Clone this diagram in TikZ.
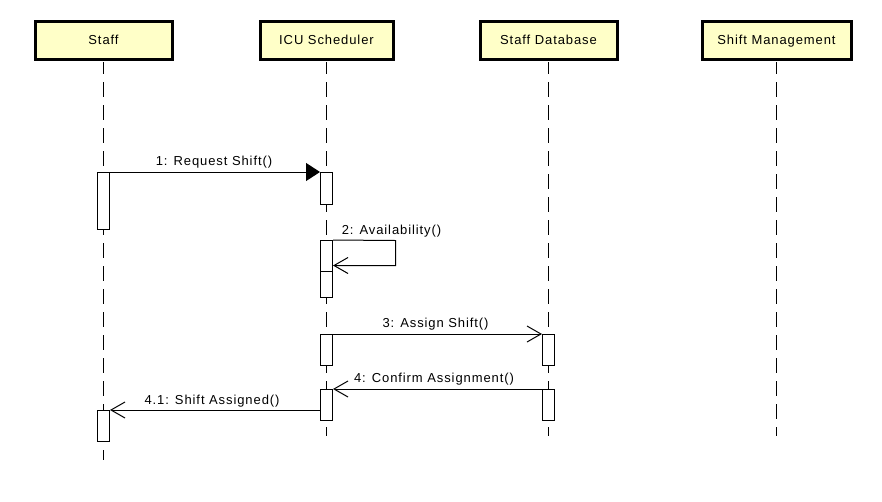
\documentclass[tikz,border=0pt]{standalone}
\usepackage{fontspec}
\setmainfont{Liberation Sans}[LetterSpace=7]
\usetikzlibrary{arrows.meta}
\definecolor{hdrfill}{HTML}{FFFFC8}
\begin{document}
\begin{tikzpicture}[x=1pt,y=-1pt,
  hdr/.style={draw=black,line width=3pt,fill=hdrfill,minimum height=37.7pt,inner sep=0pt,text height=9.3pt,text depth=1.3pt,font=\fontsize{13}{15}\selectfont},
  life/.style={draw=black,line width=1pt,dash pattern=on 15pt off 8pt,dash phase=2.7pt},
  act/.style={draw=black,line width=1pt,fill=white,minimum width=12pt,inner sep=0pt},
  msg/.style={draw=black,line width=1pt},
  openarr/.style={-{Straight Barb[length=14pt,width=16pt,line width=1pt]}},
  fillarr/.style={-{Triangle[length=14pt,width=18pt]}},
  lbl/.style={inner sep=0pt,font=\fontsize{13}{15}\selectfont}]
\useasboundingbox (0,0) rectangle (882,501);
% headers
\node[hdr,minimum width=137pt] (staff) at (103.5,40.3) {Staff};
\node[hdr,minimum width=133pt] (icu) at (326.5,40.3) {ICU Scheduler};
\node[hdr,minimum width=137pt] (db) at (548.5,40.3) {Staff Database};
\node[hdr,minimum width=149pt] (sm) at (776.5,40.3) {Shift Management};
% lifeline ends
\coordinate (staffend) at (103.5,460);
\coordinate (icuend) at (326.5,436);
\coordinate (dbend) at (548.5,436);
\coordinate (smend) at (776.5,436);
\draw[life] (staff.south) ++(0,1.5) -- (staffend);
\draw[life] (icu.south) ++(0,1.5) -- (icuend);
\draw[life] (db.south) ++(0,1.5) -- (dbend);
\draw[life] (sm.south) ++(0,1.5) -- (smend);
% activations
\node[act,minimum height=57pt] (a1) at (103.5,201) {};
\node[act,minimum height=31pt] (a2) at (103.5,426) {};
\node[act,minimum height=32pt] (b1) at (326.5,188.5) {};
\node[act,minimum height=57pt] (b2) at (326.5,269) {};
\draw[msg] (b2.west |- 0,271.5) -- (b2.east |- 0,271.5);
\node[act,minimum height=31pt] (b3) at (326.5,350) {};
\node[act,minimum height=31pt] (b4) at (326.5,405) {};
\node[act,minimum height=31pt] (c1) at (548.5,350) {};
\node[act,minimum height=31pt] (c2) at (548.5,405) {};
% messages
\draw[msg,fillarr] (a1.north east) -- (b1.north west);
\coordinate (s1) at (395.5,240.5);
\coordinate (s2) at (395.5,265.5);
\draw[msg,openarr] (b2.north east) -- (s1) -- (s2) -- (b2.east |- s2);
\draw[msg,openarr] (b3.north east) -- (c1.north west);
\draw[msg,openarr] (c2.north west) -- (b4.north east);
\draw[msg,openarr] (b4.west |- a2.north) -- (a2.north east);
% labels
\node[lbl] (l1) at (214,162.5) {1: Request Shift()};
\node[lbl] (l2) at (391.5,231) {2: Availability()};
\node[lbl] (l3) at (435.5,324.5) {3: Assign Shift()};
\node[lbl] (l4) at (434,379) {4: Confirm Assignment()};
\node[lbl] (l41) at (212,401.5) {4.1: Shift Assigned()};
\end{tikzpicture}
\end{document}
